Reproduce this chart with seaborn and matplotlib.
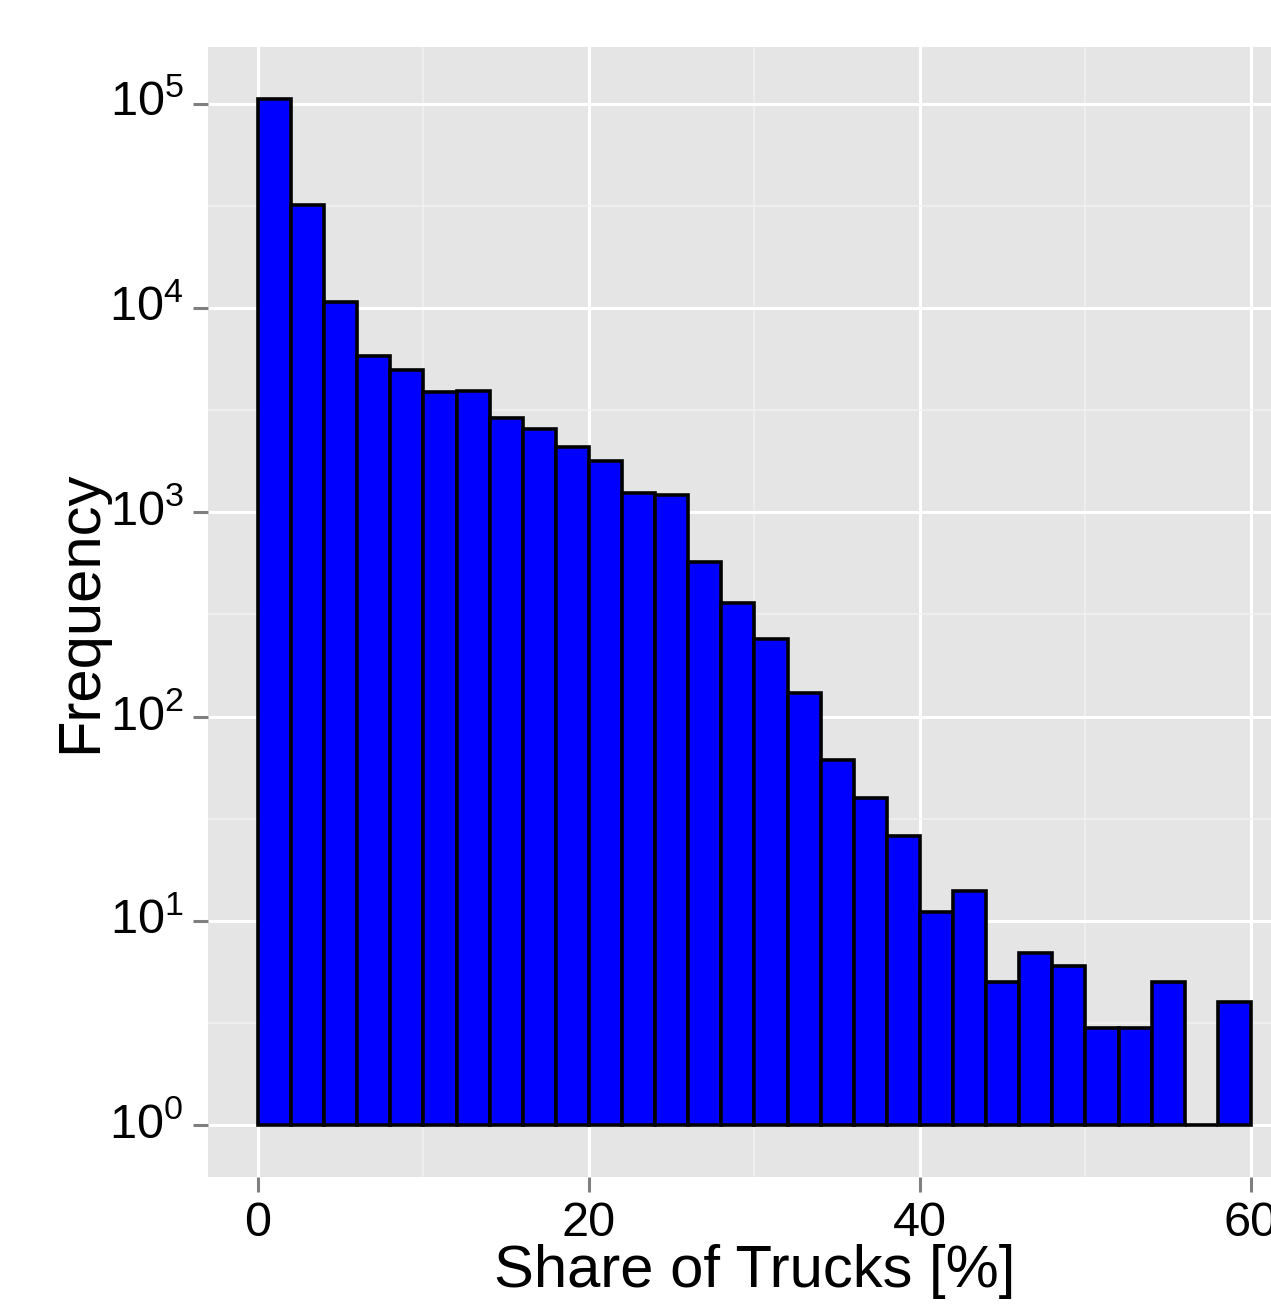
import numpy as np
import pandas as pd
import matplotlib
matplotlib.use("Agg")
import matplotlib.pyplot as plt
import seaborn as sns
from matplotlib.ticker import FixedLocator, NullFormatter, LogFormatterSciNotation

# ---- data ----
bin_edges = [0, 2, 4, 6, 8, 10, 12, 14, 16, 18, 20, 22, 24, 26, 28, 30,
             32, 34, 36, 38, 40, 42, 44, 46, 48, 50, 52, 54, 56, 58, 60]
bin_counts = [105700, 32000, 10700, 5850, 4950, 3880, 3920, 2890, 2550, 2080,
              1780, 1240, 1215, 570, 360, 240, 131, 61, 40, 26,
              11, 14, 5, 7, 6, 3, 3, 5, 1, 4]
x_ticks = [0, 20, 40, 60]
x_minor = [10, 30, 50]
y_ticks = [1, 10, 100, 1000, 10000, 100000]
y_minor = [10 ** 0.5, 10 ** 1.5, 10 ** 2.5, 10 ** 3.5, 10 ** 4.5]
x_label = "Share of Trucks [%]"
y_label = "Frequency"

bin_centers = [(a + b) / 2 for a, b in zip(bin_edges[:-1], bin_edges[1:])]
df = pd.DataFrame({"share": bin_centers, "count": bin_counts})

sns.set_theme(style="white")
plt.rcParams["font.family"] = ["Liberation Sans", "DejaVu Sans"]
plt.rcParams["mathtext.fontset"] = "custom"
plt.rcParams["mathtext.rm"] = "Liberation Sans"
plt.rcParams["mathtext.it"] = "Liberation Sans:italic"
plt.rcParams["mathtext.bf"] = "Liberation Sans:bold"

W, H = 1271, 1305
fig = plt.figure(figsize=(W / 100, H / 100), dpi=100)
# panel extends beyond the right edge (cropped like the reference)
left_px, right_px, top_px, bottom_px = 208.35, 1300.6, 47.3, 1176.7
ax = fig.add_axes([left_px / W, (H - bottom_px) / H,
                   (right_px - left_px) / W, (bottom_px - top_px) / H])
ax.set_facecolor("#E5E5E5")

sns.histplot(data=df, x="share", weights="count", bins=bin_edges, ax=ax,
             color="#0000FF", edgecolor="black", linewidth=2.6, alpha=1,
             zorder=3)
ax.set_yscale("log")
# bars start at 10^0 as in the reference
for p in ax.patches:
    h = p.get_height()
    p.set_y(1.0)
    p.set_height(h - 1.0)
    p.set_linewidth(2.6)

ax.set_xlim(-3, 63)
ax.set_ylim(10 ** -0.252, 10 ** 5.276)

ax.xaxis.set_major_locator(FixedLocator(x_ticks))
ax.xaxis.set_minor_locator(FixedLocator(x_minor))
ax.yaxis.set_major_locator(FixedLocator(y_ticks))
ax.yaxis.set_major_formatter(LogFormatterSciNotation())
ax.yaxis.set_minor_locator(FixedLocator(y_minor))
ax.yaxis.set_minor_formatter(NullFormatter())

ax.grid(which="major", color="white", linewidth=2.2, zorder=1)
ax.grid(which="minor", color="#F2F2F2", linewidth=1.1, zorder=1)
ax.set_axisbelow(True)

for s in ax.spines.values():
    s.set_visible(False)

ax.tick_params(which="major", axis="both", length=10.8, width=2.2,
               color="#7F7F7F", labelsize=35, labelcolor="black")
ax.tick_params(which="major", axis="x", pad=7, bottom=True)
ax.tick_params(which="major", axis="y", pad=7, left=True)
ax.tick_params(which="minor", length=0)

fig.canvas.draw()
for t in ax.get_yticklabels():
    t.set_verticalalignment("center")

ax.set_xlabel(x_label, fontsize=43, color="black")
ax.set_ylabel(y_label, fontsize=43, color="black")
ax.xaxis.set_label_coords(0.5, -0.060)
ax.yaxis.set_label_coords(-0.092, 0.5)

fig.savefig("out.png", dpi=100)
